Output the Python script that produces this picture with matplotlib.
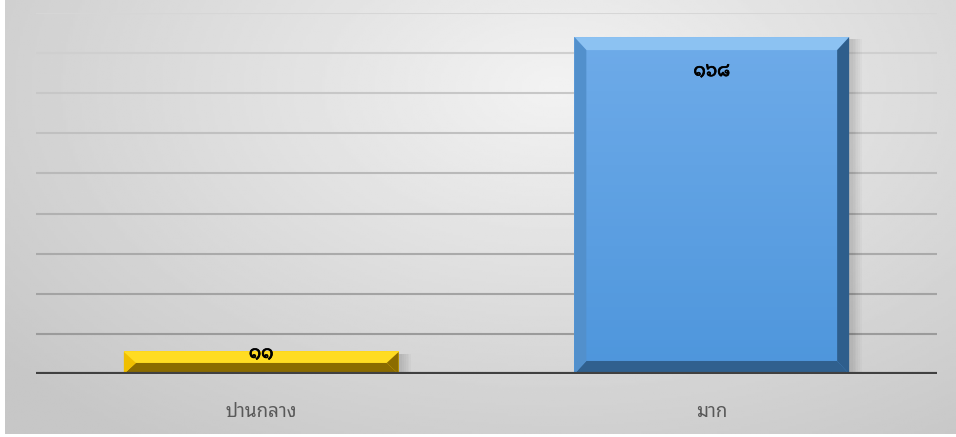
import numpy as np
import matplotlib
matplotlib.use('Agg')
import matplotlib.pyplot as plt
import matplotlib.patheffects as pe
from matplotlib.patches import Polygon, Rectangle
from matplotlib.colors import LinearSegmentedColormap

plt.rcParams['font.family'] = ['Noto Sans Thai Looped', 'DejaVu Sans']

# data
categories = ['ปานกลาง', 'มาก']
values = [11, 168]
value_labels = ['๑๑', '๑๖๘']
grid_ticks = [20, 40, 60, 80, 100, 120, 140, 160, 180]

# bar styles: face gradient (top,bottom), top bevel, left, right, bottom
styles = [
    dict(face=('#ffd91c', '#f7cf10'), top='#ffdc22', left='#f0bf00',
         right='#8c6c00', bottom='#8a6b00'),
    dict(face=('#6eabe9', '#4e96dc'), top='#8cc2f2', left='#5290cc',
         right='#2e5e8c', bottom='#30608e'),
]

W, H = 956, 437
fig = plt.figure(figsize=(W / 100, H / 100), dpi=100)
fig.patch.set_facecolor('white')

# radial grey background
bg = fig.add_axes([5 / W, 3 / H, 1 - 5 / W, 1 - 3 / H])
gx, gy = np.meshgrid(np.linspace(0, 1, 400), np.linspace(0, 1, 200))
d = np.sqrt(((gx - 0.58) / 0.75) ** 2 + ((gy - 0.2) / 1.0) ** 2)
g = np.clip(0.95 - 0.17 * d, 0.78, 0.95)
bg.imshow(g, cmap='gray', vmin=0, vmax=1, aspect='auto', extent=(0, 1, 1, 0))
bg.set_axis_off()

ax = fig.add_axes([36 / W, (H - 374) / H, 901 / W, 361 / H])
ax.patch.set_alpha(0)
ax.set_xlim(-0.5, len(categories) - 0.5)
ax.set_ylim(0, 180)

# gridlines, lighter towards the top
for t in grid_ticks:
    f = t / 180
    c = 0.58 + 0.26 * f
    ax.axhline(t, color=(c, c, c), lw=1.5, zorder=1)

bw = 0.61
bx = 12 / 450.5
for i, (v, st) in enumerate(zip(values, styles)):
    x0, x1 = i - bw / 2, i + bw / 2
    by = min(6.5, v / 2)
    # soft shadow
    for k in range(6):
        ax.add_patch(Rectangle((x0 + 0.004, 0), bw + (k + 1) * 0.004, v - 1,
                               color='black', alpha=0.025, lw=0, zorder=2))
    # face gradient
    cm = LinearSegmentedColormap.from_list('f', [st['face'][1], st['face'][0]])
    ax.imshow(np.linspace(0, 1, 50).reshape(-1, 1), cmap=cm, origin='lower',
              extent=(x0, x1, 0, v), aspect='auto', zorder=3)
    ax.add_patch(Polygon([(x0, v), (x1, v), (x1 - bx, v - by), (x0 + bx, v - by)],
                         color=st['top'], lw=0, zorder=4))
    ax.add_patch(Polygon([(x0, 0), (x1, 0), (x1 - bx, by), (x0 + bx, by)],
                         color=st['bottom'], lw=0, zorder=4))
    ax.add_patch(Polygon([(x0, 0), (x0, v), (x0 + bx, v - by), (x0 + bx, by)],
                         color=st['left'], lw=0, zorder=4))
    ax.add_patch(Polygon([(x1, 0), (x1, v), (x1 - bx, v - by), (x1 - bx, by)],
                         color=st['right'], lw=0, zorder=4))

# value labels
bold = [pe.withStroke(linewidth=0.5, foreground='black')]
for i, (v, lab) in enumerate(zip(values, value_labels)):
    if v > 30:
        ax.annotate(lab, (i, v), xytext=(0, -18), textcoords='offset points',
                    ha='center', va='top', fontsize=13.5, fontweight='bold',
                    color='black', zorder=6, path_effects=bold)
    else:
        ax.annotate(lab, (i, v), xytext=(0, -1), textcoords='offset points',
                    ha='center', va='center', fontsize=13.5, fontweight='bold',
                    color='black', zorder=6, path_effects=bold)

ax.axhline(0, color='#404040', lw=3, zorder=5)
for s in ax.spines.values():
    s.set_visible(False)
ax.set_yticks([])
ax.set_xticks(range(len(categories)))
ax.set_xticklabels(categories, fontsize=13.5, color='#595959')
ax.tick_params(axis='x', length=0, pad=21)

fig.savefig('out.png', dpi=100)
